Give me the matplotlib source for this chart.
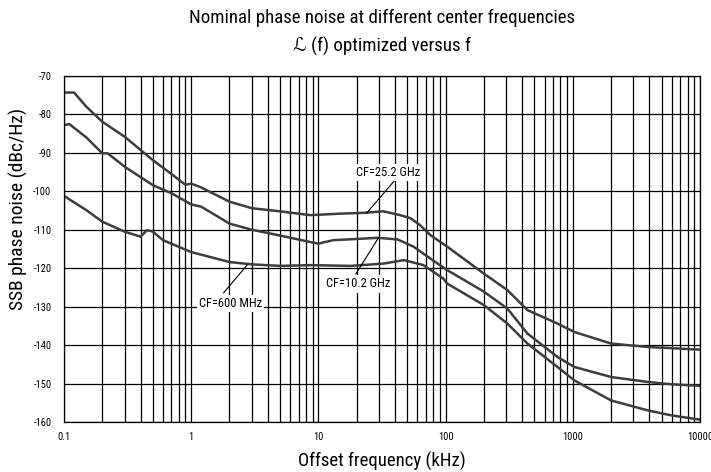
import matplotlib
matplotlib.use("Agg")
import matplotlib.pyplot as plt
from matplotlib.ticker import FixedLocator, LogLocator, NullFormatter, FixedFormatter

plt.rcParams['font.family'] = ['Roboto Condensed', 'DejaVu Sans']

# ---- data (offset frequency in kHz, phase noise in dBc/Hz) ----
f_25g = [0.1, 0.12, 0.15, 0.2, 0.3, 0.5, 0.7, 0.9, 1.0, 1.2, 2, 3, 5, 8.65, 15, 22.6,
         32.5, 44, 53, 63, 76, 103, 200, 306, 440, 758, 1030, 2000, 3900, 6000, 10000]
v_25g = [-74.3, -74.3, -78, -81.9, -85.8, -91.9, -95.5, -98.3, -98.0, -99.0, -102.7,
         -104.4, -105.2, -106.2, -105.8, -105.6, -105.2, -106.2, -107, -108.8, -111.4,
         -114.4, -121.4, -125.7, -130.9, -134.4, -136.6, -139.6, -140.5, -140.8, -141.2]

f_10g = [0.1, 0.11, 0.15, 0.2, 0.22, 0.3, 0.5, 0.7, 1, 1.2, 2, 3, 5, 8.65, 10, 13.1,
         20, 29, 41.8, 56, 76, 103, 200, 306, 440, 758, 1030, 2000, 3900, 6000, 10000]
v_10g = [-82.8, -82.5, -86, -90.1, -90.1, -93.6, -98.4, -100.5, -103.4, -104, -108.4,
         -110, -111.5, -113.2, -113.6, -112.7, -112.4, -112.1, -112.5, -114.4, -117.5,
         -120.5, -126.1, -130.5, -137, -143.1, -145.7, -148.3, -149.6, -150.2, -150.6]

f_600m = [0.1, 0.15, 0.2, 0.3, 0.4, 0.45, 0.5, 0.6, 1, 2, 3, 5, 8.65, 17.9, 32.5, 47,
          67, 96, 103, 200, 306, 440, 758, 1030, 2000, 3900, 6000, 10000]
v_600m = [-101.2, -104.9, -107.9, -110.5, -111.8, -110.1, -110.5, -112.7, -115.8,
          -118.4, -119, -119.4, -119.2, -119.4, -118.8, -117.9, -119.2, -122.7, -124,
          -129.6, -134.4, -139.6, -145.7, -149.2, -154.4, -157, -158.3, -159.4]

x_ticks = [0.1, 1, 10, 100, 1000, 10000]
x_ticklabels = ["0.1", "1", "10", "100", "1000", "10000"]
y_ticks = [-70, -80, -90, -100, -110, -120, -130, -140, -150, -160]

# annotations: label, text position, line start, line end
annotations = [
    ("CF=25.2 GHz", (35.6, -95.2), (39.7, -97.2), (23.9, -105.7)),
    ("CF=10.2 GHz", (20.7, -124.1), (19.7, -121.5), (29.8, -112.0)),
    ("CF=600 MHz", (2.03, -129.1), (1.80, -126.4), (2.75, -119.2)),
]

fig = plt.figure(figsize=(7.11, 4.72), dpi=100)
ax = fig.add_axes([0.090, 0.106, 0.8945, 0.733])

ax.set_xscale('log')
ax.set_xlim(0.1, 10000)
ax.set_ylim(-160, -70)

ax.xaxis.set_major_locator(FixedLocator(x_ticks))
ax.xaxis.set_major_formatter(FixedFormatter(x_ticklabels))
ax.xaxis.set_minor_locator(LogLocator(base=10, subs=range(2, 10), numticks=20))
ax.xaxis.set_minor_formatter(NullFormatter())
ax.yaxis.set_major_locator(FixedLocator(y_ticks))
ax.set_yticklabels([str(v) for v in y_ticks])

ax.grid(True, which='both', axis='x', color='black', linewidth=0.9)
ax.grid(True, which='major', axis='y', color='black', linewidth=0.9)
ax.set_axisbelow(True)
for s in ax.spines.values():
    s.set_color('black')
    s.set_linewidth(0.9)
ax.tick_params(which='both', length=0, labelsize=7.5)
ax.tick_params(axis='x', pad=7)
ax.tick_params(axis='y', pad=9)

line_kw = dict(color='#3d3d3d', linewidth=1.8)
ax.plot(f_25g, v_25g, **line_kw)
ax.plot(f_10g, v_10g, **line_kw)
ax.plot(f_600m, v_600m, **line_kw)

for label, tpos, p0, p1 in annotations:
    ax.plot([p0[0], p1[0]], [p0[1], p1[1]], color='black', linewidth=0.8, zorder=4)
    ax.text(tpos[0], tpos[1], label, ha='center', va='center', fontsize=9,
            bbox=dict(facecolor='white', edgecolor='none', pad=1.5), zorder=5)

ax.set_xlabel("Offset frequency (kHz)", fontsize=13.5, labelpad=7)
ax.set_ylabel("SSB phase noise (dBc/Hz)", fontsize=14)
ax.yaxis.set_label_coords(-0.057, 0.617)

fig.text(0.537, 0.962, "Nominal phase noise at different center frequencies",
         ha='center', va='center', fontsize=13.6)
fig.text(0.537, 0.902, "\u2112 (f) optimized versus f", ha='center', va='center',
         fontsize=13.6)

fig.savefig("out.png", dpi=100)
